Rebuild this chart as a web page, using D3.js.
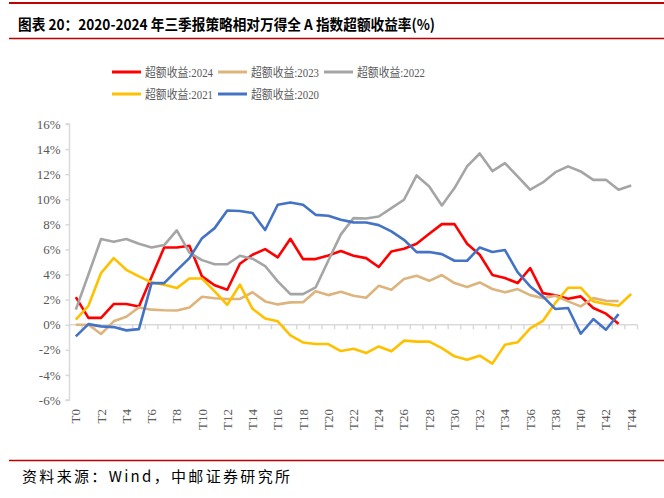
<!DOCTYPE html>
<html>
<head>
<meta charset="utf-8">
<script src="https://cdn.jsdelivr.net/npm/d3@7"></script>
<style>
  html, body { margin: 0; padding: 0; background: #fff; }
  svg { display: block; }
</style>
</head>
<body>
<svg id="chart" width="664" height="498"></svg>
<script>
// ---------- data ----------
const categories = d3.range(0, 45).map(i => "T" + i);
const tickLabels = categories.filter((c, i) => i % 2 === 0);
const yTicks = [-6, -4, -2, 0, 2, 4, 6, 8, 10, 12, 14, 16];

const seriesNames = ["超额收益:2024", "超额收益:2023", "超额收益:2022", "超额收益:2021", "超额收益:2020"];

const values2024 = [2.2, 0.55, 0.55, 1.65, 1.65, 1.46, 3.8, 6.16, 6.16, 6.3,
  3.85, 3.15, 2.79, 4.86, 5.58, 6.03, 5.37, 6.85, 5.23, 5.23,
  5.52, 5.87, 5.5, 5.31, 4.6, 5.84, 6.06, 6.45, 7.25, 8.02,
  8.02, 6.45, 5.58, 3.97, 3.72, 3.32, 4.52, 2.52, 2.34, 2.07,
  2.26, 1.33, 0.88, 0.08];
const values2023 = [0, 0, -0.74, 0.27, 0.63, 1.38, 1.2, 1.15, 1.13, 1.38,
  2.23, 2.11, 2.05, 2.06, 2.59, 1.86, 1.62, 1.78, 1.8, 2.66,
  2.36, 2.63, 2.31, 2.15, 3.1, 2.79, 3.64, 3.9, 3.5, 3.96,
  3.32, 3.0, 3.37, 2.85, 2.58, 2.84, 2.36, 2.12, 2.31, 1.86,
  1.46, 2.12, 1.91, 1.88];
const values2022 = [1.2, 4.0, 6.83, 6.61, 6.83, 6.45, 6.16, 6.35, 7.52, 5.74,
  5.15, 4.82, 4.82, 5.5, 5.26, 4.68, 3.45, 2.44, 2.44, 2.97,
  5.1, 7.2, 8.5, 8.47, 8.63, 9.3, 9.96, 11.9, 11.02, 9.51,
  10.89, 12.62, 13.65, 12.25, 12.88, 11.82, 10.76, 11.34, 12.16, 12.62,
  12.22, 11.55, 11.55, 10.76, 11.1];
const values2021 = [0.4, 1.51, 4.12, 5.31, 4.38, 3.85, 3.37, 3.19, 2.92, 3.69,
  3.68, 2.66, 1.59, 3.19, 1.27, 0.5, 0.27, -0.85, -1.41, -1.54,
  -1.54, -2.1, -1.92, -2.26, -1.73, -2.12, -1.27, -1.35, -1.35, -1.86,
  -2.52, -2.79, -2.47, -3.1, -1.59, -1.4, -0.3, 0.3, 1.75, 2.95,
  2.95, 1.86, 1.66, 1.51, 2.45];
const values2020 = [-0.93, 0.05, -0.13, -0.19, -0.45, -0.35, 3.32, 3.32, 4.33, 5.31,
  6.9, 7.7, 9.1, 9.07, 8.9, 7.55, 9.56, 9.75, 9.56, 8.76,
  8.69, 8.37, 8.16, 8.15, 7.94, 7.44, 6.77, 5.79, 5.79, 5.63,
  5.1, 5.1, 6.16, 5.8, 5.95, 4.2, 3.05, 2.26, 1.25, 1.33,
  -0.72, 0.45, -0.4, 0.85];

const seriesColors = ["#FF0000", "#DDB47E", "#A5A5A5", "#FFC000", "#4472C4"];

const seriesList = [values2024, values2023, values2022, values2021, values2020].map((vals, i) => ({
  name: seriesNames[i], color: seriesColors[i], values: vals
}));

// ---------- layout ----------
const svg = d3.select("#chart");
const plotLeft = 69.5, plotRight = 637.5, plotTop = 124, plotBottom = 400;

const x = d3.scaleBand().domain(categories).range([plotLeft, plotRight]).paddingInner(0).paddingOuter(0);
const y = d3.scaleLinear().domain([-6, 16]).range([plotBottom, plotTop]);
const cx = c => x(c) + x.bandwidth() / 2;

const serif = "'Liberation Serif', 'Times New Roman', 'Noto Sans CJK SC', serif";
const cjk = "'Noto Sans CJK SC', 'Noto Sans', sans-serif";
const axisColor = "#D9D9D9";
const textColor = "#595959";

// frame lines
const frameRed = "#C00000";
svg.append("line").attr("x1", 9).attr("x2", 664).attr("y1", 3).attr("y2", 3)
  .attr("stroke", frameRed).attr("stroke-width", 2);
svg.append("line").attr("x1", 9).attr("x2", 664).attr("y1", 38.5).attr("y2", 38.5)
  .attr("stroke", frameRed).attr("stroke-width", 1.5);
svg.append("line").attr("x1", 9).attr("x2", 664).attr("y1", 460.5).attr("y2", 460.5)
  .attr("stroke", frameRed).attr("stroke-width", 1.5);

// title
svg.append("text")
  .attr("x", 18).attr("y", 30)
  .attr("font-family", cjk).attr("font-weight", "bold").attr("font-size", 15)
  .attr("fill", "#000")
  .attr("textLength", 417).attr("lengthAdjust", "spacingAndGlyphs")
  .text("图表 20：2020-2024 年三季报策略相对万得全 A 指数超额收益率(%)");

// source
svg.append("text")
  .attr("x", 22).attr("y", 482)
  .attr("font-family", cjk).attr("font-size", 15)
  .attr("fill", "#000")
  .attr("textLength", 268).attr("lengthAdjust", "spacing")
  .text("资料来源：Wind，中邮证券研究所");

// y axis
const yAxis = d3.axisLeft(y).tickValues(yTicks).tickSize(4).tickPadding(5)
  .tickFormat(d => d + "%");
const gy = svg.append("g").attr("transform", `translate(${plotLeft},0)`).call(yAxis);
gy.select(".domain").attr("stroke", axisColor).attr("stroke-width", 1.5)
  .attr("d", `M-4,${plotTop}H0V${plotBottom}H-4`);
gy.selectAll(".tick line").attr("stroke", axisColor).attr("stroke-width", 1.5);
gy.selectAll(".tick text").attr("fill", textColor).attr("font-family", serif).attr("font-size", 13);

// x axis along zero line
const gx = svg.append("g").attr("transform", `translate(0,${y(0)})`);
gx.append("line").attr("x1", plotLeft).attr("x2", plotRight).attr("y1", 0).attr("y2", 0)
  .attr("stroke", axisColor).attr("stroke-width", 1.5);
const boundaries = categories.map(c => x(c)).concat([plotRight]);
gx.selectAll("line.tk").data(boundaries).join("line").attr("class", "tk")
  .attr("x1", d => d).attr("x2", d => d).attr("y1", 0).attr("y2", 4.5)
  .attr("stroke", axisColor).attr("stroke-width", 1.5);

// x labels (rotated, reading upward), placed below the plot
svg.append("g").selectAll("text").data(tickLabels).join("text")
  .attr("transform", d => `translate(${cx(d) + 4.5},${409}) rotate(-90)`)
  .attr("text-anchor", "end")
  .attr("font-family", serif).attr("font-size", 13)
  .attr("fill", textColor)
  .text(d => d);

// lines
const line = d3.line()
  .x((d, i) => cx(categories[i]))
  .y(d => y(d));

svg.append("g").selectAll("path").data(seriesList).join("path")
  .attr("fill", "none")
  .attr("stroke", d => d.color)
  .attr("stroke-width", 2.6)
  .attr("stroke-linejoin", "round")
  .attr("d", d => line(d.values));

// legend
const legendPos = [
  { lx: 112, ty: 72 }, { lx: 218, ty: 72 }, { lx: 324, ty: 72 },
  { lx: 112, ty: 94 }, { lx: 218, ty: 94 }
];
const lg = svg.append("g").selectAll("g").data(seriesList).join("g")
  .attr("transform", (d, i) => `translate(${legendPos[i].lx},${legendPos[i].ty})`);
lg.append("line").attr("x1", 0).attr("x2", 29).attr("y1", 0).attr("y2", 0)
  .attr("stroke", d => d.color).attr("stroke-width", 3);
lg.append("text").attr("x", 33).attr("y", 4.5)
  .attr("font-family", serif).attr("font-size", 12)
  .attr("fill", textColor)
  .attr("textLength", 68).attr("lengthAdjust", "spacingAndGlyphs")
  .text(d => d.name);
</script>
</body>
</html>
